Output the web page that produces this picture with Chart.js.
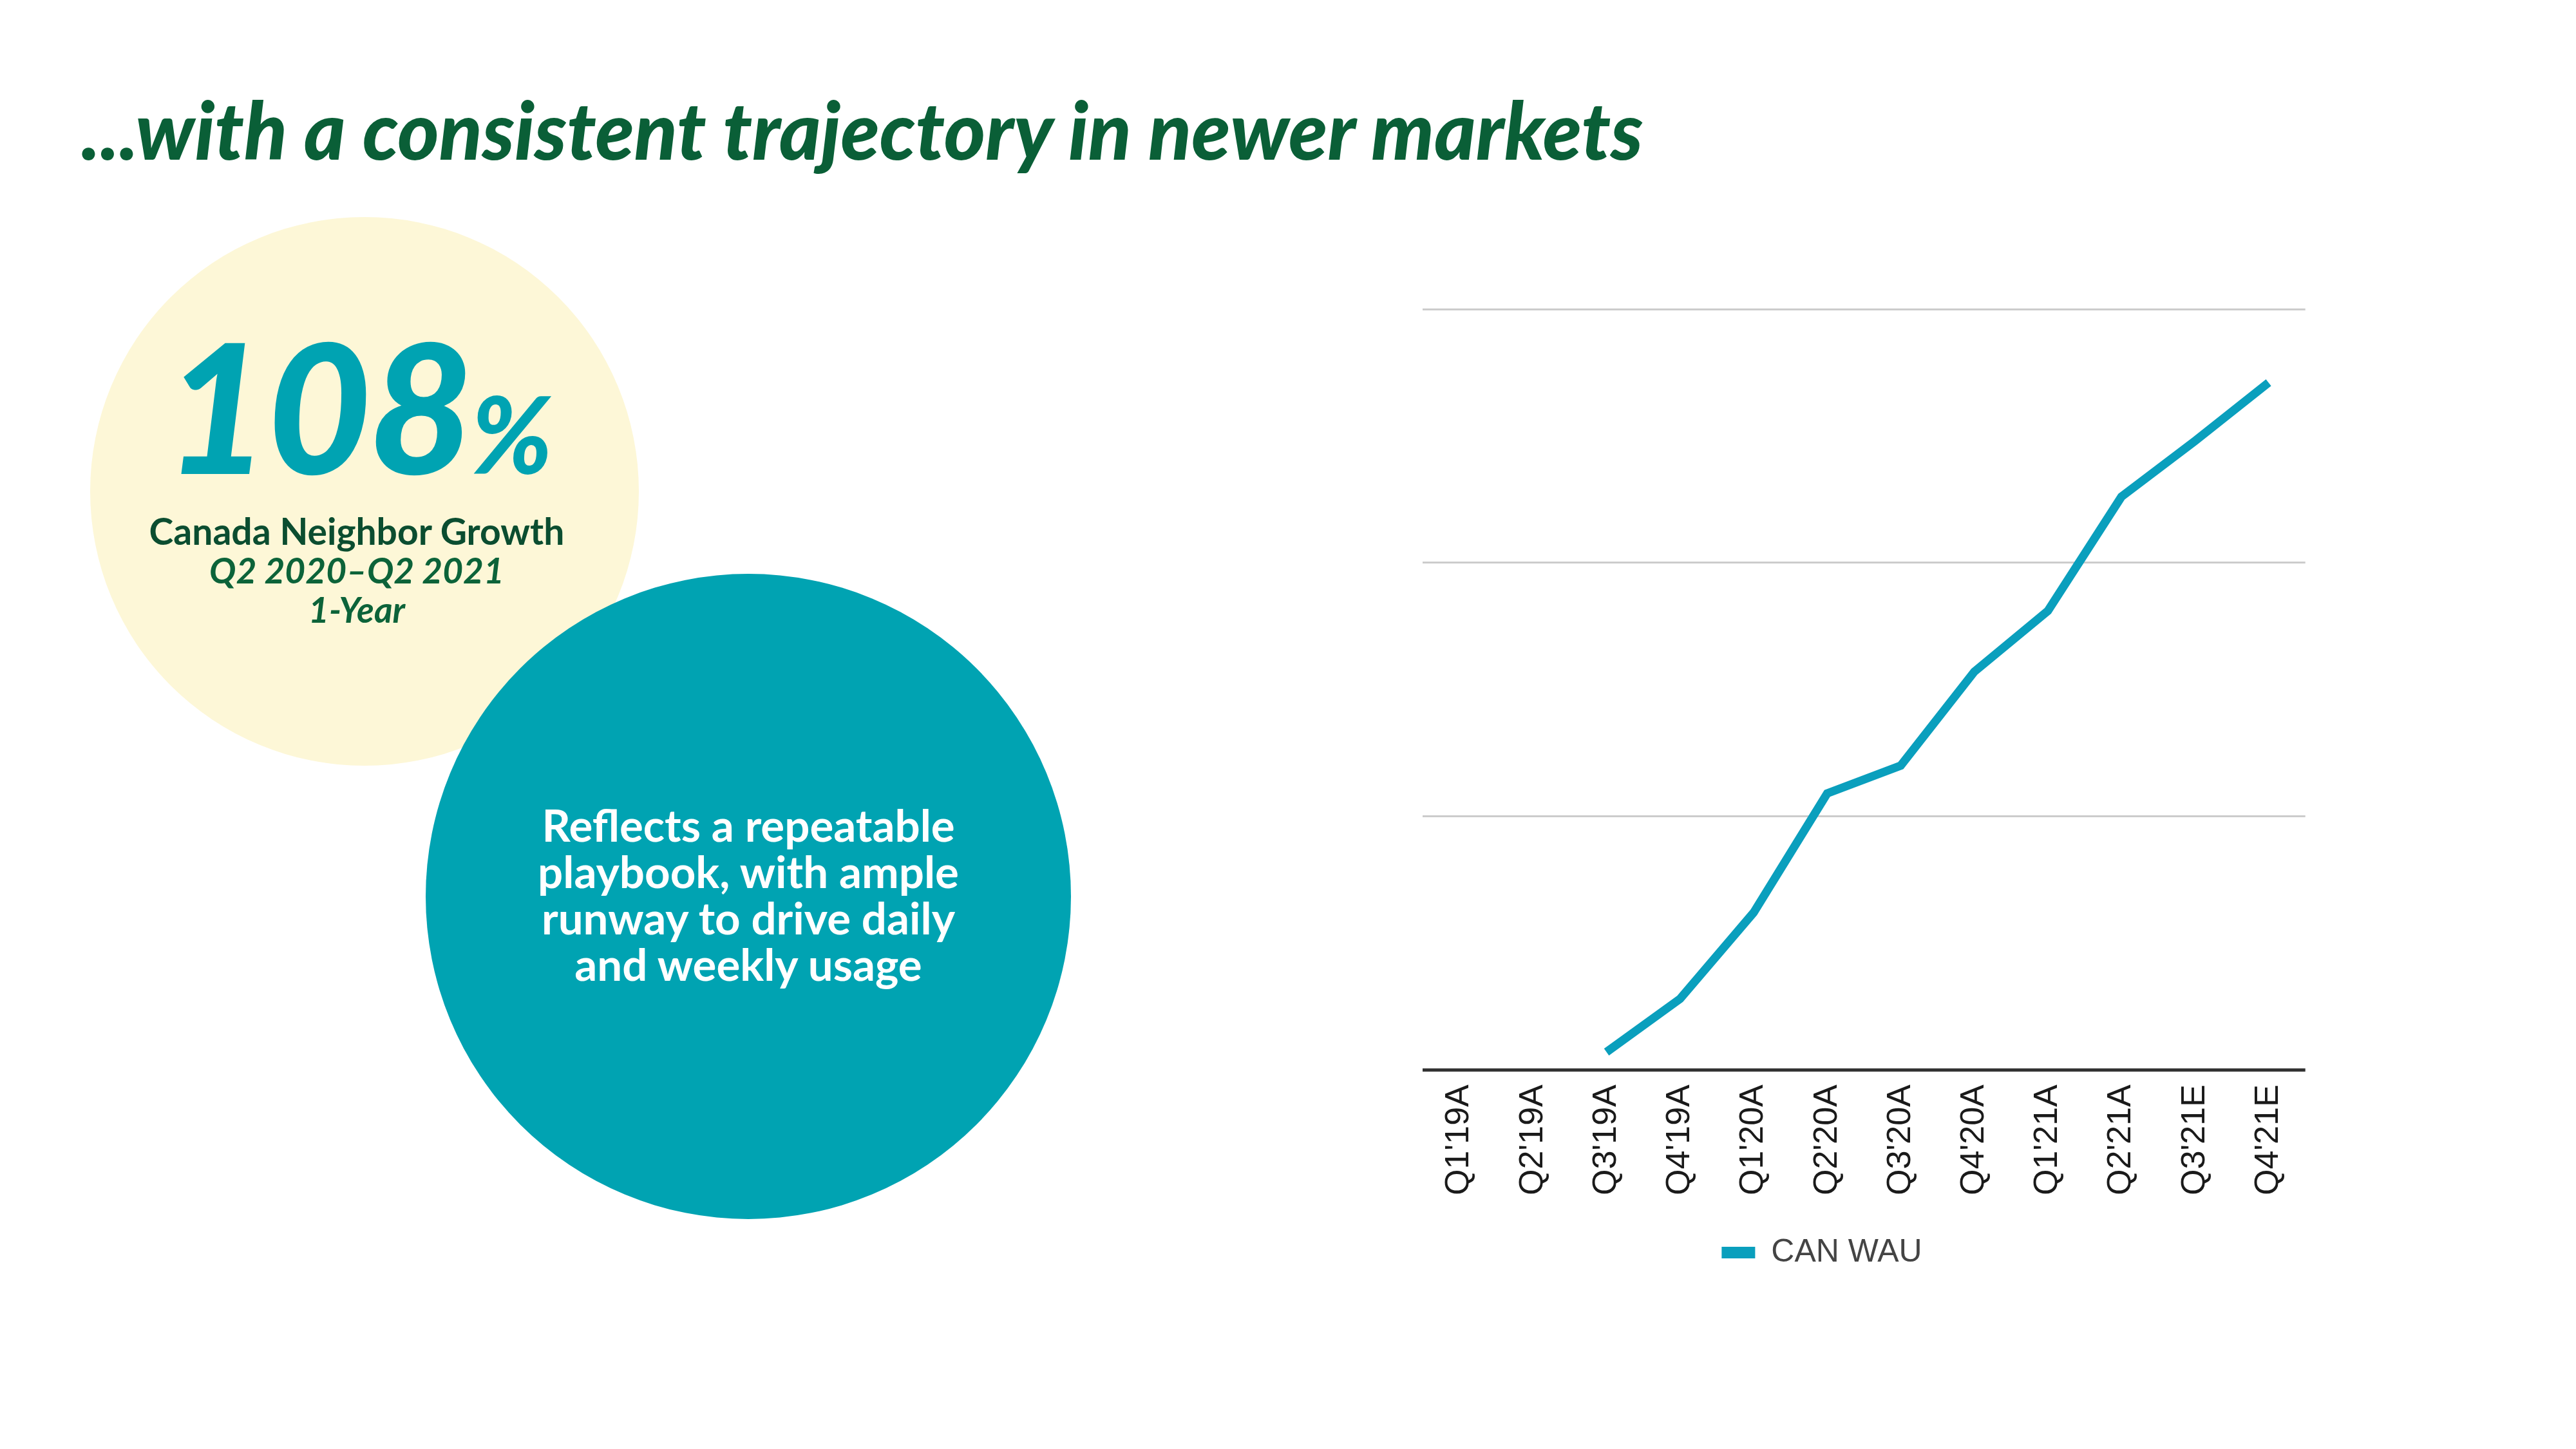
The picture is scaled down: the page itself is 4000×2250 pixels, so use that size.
<!DOCTYPE html>
<html>
<head>
<meta charset="utf-8">
<script src="https://cdn.jsdelivr.net/npm/chart.js@4/dist/chart.umd.min.js"></script>
<style>
  html, body { margin: 0; padding: 0; background: #ffffff; }
  body { width: 4000px; height: 2250px; position: relative; overflow: hidden; font-family: Lato, "Open Sans", sans-serif; }
  .title { position: absolute; left: 126px; top: 127px; font-family: Lato; font-weight: 900; font-style: italic; font-size: 123px; color: #0a5f37; white-space: nowrap; letter-spacing: 0px; }
  .circ { position: absolute; border-radius: 50%; }
  .yellow { left: 140px; top: 337px; width: 852px; height: 852px; background: #fdf7d7; }
  .teal { left: 661px; top: 891px; width: 1002px; height: 1002px; background: #00a3b2; }
  .big { position: absolute; left: 256px; top: 460px; font-family: Lato; font-weight: 900; font-style: italic; color: #00a3b2; white-space: nowrap; }
  .big .n { font-size: 280px; letter-spacing: -4px; }
  .big .p { font-size: 165px; }
  .sub { position: absolute; left: 154px; width: 800px; text-align: center; color: #0b4d30; font-family: Lato; white-space: nowrap; }
  .s1 { top: 790px; font-size: 57px; font-weight: 700; }
  .s2 { top: 852px; font-size: 55px; font-weight: 700; font-style: italic; color: #0c6339; }
  .s3 { top: 913px; font-size: 55px; font-weight: 700; font-style: italic; color: #0c6339; }
  .tealtext { position: absolute; left: 712px; width: 900px; top: 1245px; text-align: center; color: #ffffff; font-family: Lato; font-weight: 700; font-size: 69px; line-height: 72px; }
  #chartBox { position: absolute; left: 2050px; top: 460px; width: 1558px; height: 1520px; }
</style>
</head>
<body>
<div class="title">...with a consistent trajectory in newer markets</div>
<div class="circ yellow"></div>
<div class="big"><span class="n">108</span><span class="p">%</span></div>
<div class="sub s1">Canada Neighbor Growth</div>
<div class="sub s2">Q2 2020–Q2 2021</div>
<div class="sub s3">1-Year</div>
<div class="circ teal"></div>
<div class="tealtext">Reflects a repeatable<br>playbook, with ample<br>runway to drive daily<br>and weekly usage</div>
<div id="chartBox"><canvas id="c"></canvas></div>
<script>
const categories = ["Q1'19A","Q2'19A","Q3'19A","Q4'19A","Q1'20A","Q2'20A","Q3'20A","Q4'20A","Q1'21A","Q2'21A","Q3'21E","Q4'21E"];
const seriesName = "CAN WAU";
const canWau = [null, null, 0.07, 0.28, 0.62, 1.09, 1.20, 1.57, 1.81, 2.26, 2.48, 2.71];
const yTicks = [0, 1, 2, 3];

const lineColor = '#0a9fbd';

new Chart(document.getElementById('c'), {
  type: 'line',
  data: {
    labels: categories,
    datasets: [{
      label: seriesName,
      data: canWau,
      borderColor: lineColor,
      backgroundColor: lineColor,
      borderWidth: 13,
      pointRadius: 0,
      tension: 0,
      spanGaps: false
    }]
  },
  options: {
    responsive: true,
    maintainAspectRatio: false,
    animation: false,
    layout: { padding: { left: 0, right: 0, top: 20, bottom: 0 } },
    plugins: {
      tooltip: { enabled: false },
      legend: {
        display: true,
        position: 'bottom',
        labels: {
          boxWidth: 52,
          boxHeight: 18,
          padding: 41,
          color: '#444444',
          font: { family: 'Liberation Sans, Arial, sans-serif', size: 50 },
          generateLabels: (chart) => Chart.defaults.plugins.legend.labels.generateLabels(chart).map(l => Object.assign(l, { lineWidth: 0, fillStyle: lineColor, strokeStyle: lineColor }))
        }
      }
    },
    scales: {
      x: {
        offset: true,
        grid: { display: false, drawTicks: false },
        border: { display: false },
        ticks: {
          autoSkip: false,
          minRotation: 90,
          maxRotation: 90,
          padding: 23,
          color: '#1a1a1a',
          font: { family: 'Liberation Sans, Arial, sans-serif', size: 52 }
        }
      },
      y: {
        min: yTicks[0],
        max: yTicks[yTicks.length - 1],
        afterBuildTicks: (scale) => { scale.ticks = yTicks.map(v => ({ value: v })); },
        afterFit: (scale) => { scale.width = 159; },
        ticks: { display: false },
        border: { display: false },
        grid: {
          drawTicks: false,
          color: (ctx) => ctx.tick && ctx.tick.value === 0 ? '#333333' : '#cccccc',
          lineWidth: (ctx) => ctx.tick && ctx.tick.value === 0 ? 5 : 3
        }
      }
    }
  }
});
</script>
</body>
</html>
